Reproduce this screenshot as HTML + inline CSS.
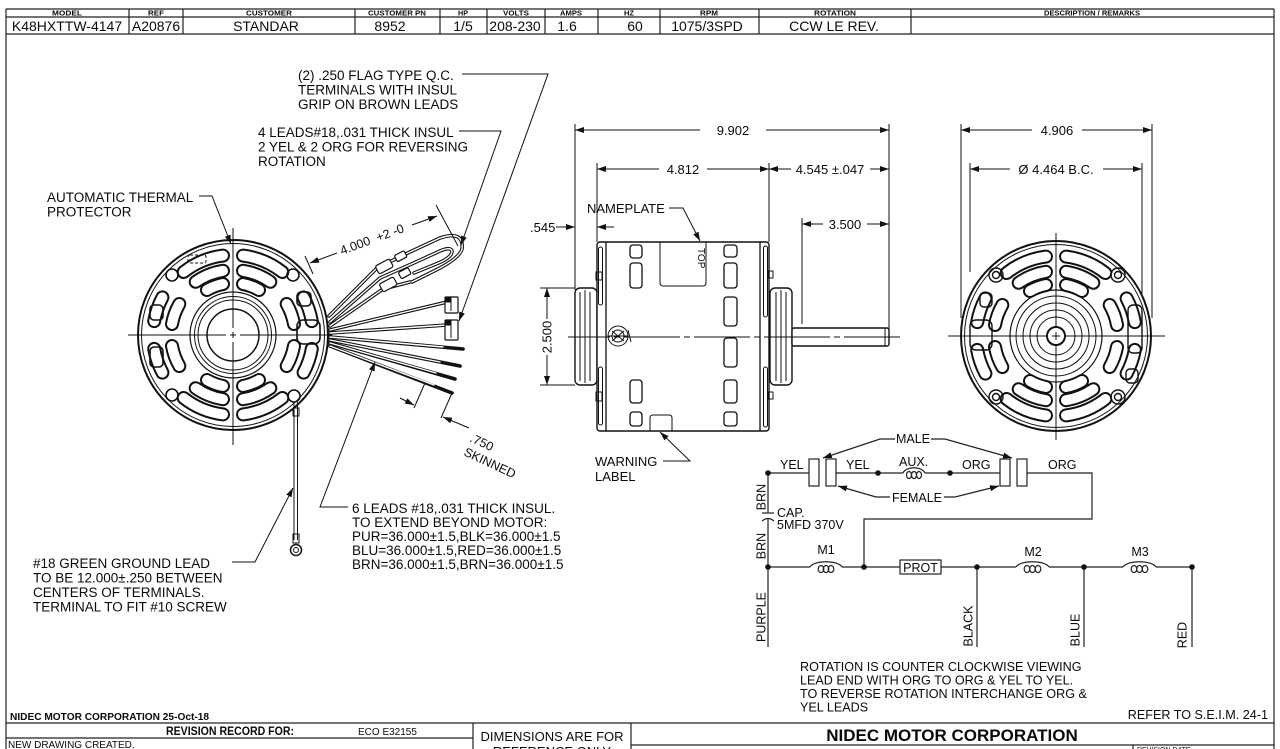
<!DOCTYPE html>
<html><head><meta charset="utf-8">
<style>
html,body{margin:0;padding:0;background:#fff;}
svg{display:block;}
text{font-family:"Liberation Sans",Arial,sans-serif;fill:#0a0a0a;}
</style></head><body>
<svg width="1280" height="749" viewBox="0 0 1280 749" xmlns="http://www.w3.org/2000/svg">
<defs>
<marker id="a" markerUnits="userSpaceOnUse" markerWidth="10" markerHeight="7" refX="9" refY="3" orient="auto-start-reverse" viewBox="0 0 10 6"><path d="M0,0 L9,3 L0,6 z" fill="#111"/></marker>
<path id="vp" d="M-49.3,-63 A80,80 0 0 1 -10,-79.4 M10,-79.4 A80,80 0 0 1 49.3,-63
M-37.3,-53.2 A65,65 0 0 1 -10,-64.2 M10,-64.2 A65,65 0 0 1 37.3,-53.2
M-26,-45 A52,52 0 0 1 -10,-51 M10,-51 A52,52 0 0 1 26,-45
M-49.3,63 A80,80 0 0 0 -10,79.4 M10,79.4 A80,80 0 0 0 49.3,63
M-37.3,53.2 A65,65 0 0 0 -10,64.2 M10,64.2 A65,65 0 0 0 37.3,53.2
M-26,45 A52,52 0 0 0 -10,51 M10,51 A52,52 0 0 0 26,45
M70.6,-37.6 A80,80 0 0 1 78.8,-13.9 M78.8,13.9 A80,80 0 0 1 70.6,37.6
M53.7,-31 A62,62 0 0 1 61,-11 M61,11 A62,62 0 0 1 53.7,31
M-70.6,-37.6 A80,80 0 0 0 -78.8,-13.9 M-78.8,13.9 A80,80 0 0 0 -70.6,37.6
M-53.7,-31 A62,62 0 0 0 -61,-11 M-61,11 A62,62 0 0 0 -53.7,31"/>
</defs>

<!-- FRAME + HEADER TABLE -->
<g stroke="#222" fill="none" stroke-width="1.2">
<line x1="6" y1="9" x2="6" y2="749"/>
<line x1="1274" y1="9" x2="1274" y2="749"/>
<line x1="6" y1="9" x2="1274" y2="9"/>
<line x1="6" y1="17" x2="1274" y2="17"/>
<line x1="6" y1="34" x2="1274" y2="34"/>
<line x1="129" y1="9" x2="129" y2="34"/>
<line x1="183" y1="9" x2="183" y2="34"/>
<line x1="355" y1="9" x2="355" y2="34"/>
<line x1="440" y1="9" x2="440" y2="34"/>
<line x1="487" y1="9" x2="487" y2="34"/>
<line x1="545" y1="9" x2="545" y2="34"/>
<line x1="598" y1="9" x2="598" y2="34"/>
<line x1="660" y1="9" x2="660" y2="34"/>
<line x1="759" y1="9" x2="759" y2="34"/>
<line x1="911" y1="9" x2="911" y2="34"/>
</g>
<g font-size="7.5" text-anchor="middle" font-weight="bold" fill="#222">
<text x="67" y="15.5" textLength="30" lengthAdjust="spacingAndGlyphs">MODEL</text>
<text x="156" y="15.5" textLength="16" lengthAdjust="spacingAndGlyphs">REF</text>
<text x="269" y="15.5" textLength="46" lengthAdjust="spacingAndGlyphs">CUSTOMER</text>
<text x="397" y="15.5" textLength="58" lengthAdjust="spacingAndGlyphs">CUSTOMER PN</text>
<text x="463" y="15.5" textLength="10" lengthAdjust="spacingAndGlyphs">HP</text>
<text x="516" y="15.5" textLength="26" lengthAdjust="spacingAndGlyphs">VOLTS</text>
<text x="571" y="15.5" textLength="22" lengthAdjust="spacingAndGlyphs">AMPS</text>
<text x="629" y="15.5" textLength="10" lengthAdjust="spacingAndGlyphs">HZ</text>
<text x="709" y="15.5" textLength="18" lengthAdjust="spacingAndGlyphs">RPM</text>
<text x="835" y="15.5" textLength="42" lengthAdjust="spacingAndGlyphs">ROTATION</text>
<text x="1092" y="15.5" textLength="96" lengthAdjust="spacingAndGlyphs">DESCRIPTION / REMARKS</text>
</g>
<g font-size="14" text-anchor="middle">
<text x="67" y="31">K48HXTTW-4147</text>
<text x="156" y="31">A20876</text>
<text x="266" y="31">STANDAR</text>
<text x="390" y="31">8952</text>
<text x="463" y="31">1/5</text>
<text x="515" y="31">208-230</text>
<text x="567" y="31">1.6</text>
<text x="635" y="31">60</text>
<text x="707" y="31">1075/3SPD</text>
<text x="834" y="31">CCW LE REV.</text>
</g>

<!-- LEFT MOTOR (end view) -->
<g transform="translate(233,335)">
<circle r="95" fill="none" stroke="#111" stroke-width="2"/>
<circle r="91.5" fill="none" stroke="#111" stroke-width="1"/>
<use href="#vp" fill="none" stroke="#111" stroke-width="14" stroke-linecap="round"/>
<use href="#vp" fill="none" stroke="#fff" stroke-width="10" stroke-linecap="round"/>
<circle r="26" fill="none" stroke="#111" stroke-width="1.5"/>
<circle r="35" fill="none" stroke="#111" stroke-width="1"/>
<circle r="38.5" fill="none" stroke="#111" stroke-width="1"/>
<circle r="43" fill="none" stroke="#111" stroke-width="1.2"/>
<g fill="none" stroke="#111" stroke-width="1.6">
<circle cx="-61" cy="-60" r="6"/><circle cx="60" cy="-60" r="6"/>
<circle cx="-61" cy="60" r="6"/><circle cx="61" cy="61" r="6"/>
<rect x="64" y="-15" width="23" height="24" rx="6"/>
<rect x="64" y="-43" width="14" height="14" rx="4"/>
<rect x="-83" y="-30" width="13" height="15" rx="4"/>
<rect x="-83" y="12" width="13" height="20" rx="4"/>
<rect x="-45" y="-80" width="18" height="8" rx="2" stroke-dasharray="3 2" stroke-width="1"/>
</g>
</g>
<g stroke="#111" stroke-width="1" fill="none">
<line x1="128" y1="335" x2="226" y2="335"/><line x1="230" y1="335" x2="236" y2="335"/><line x1="240" y1="335" x2="332" y2="335"/>
<line x1="233" y1="228" x2="233" y2="328"/><line x1="233" y1="332" x2="233" y2="338"/><line x1="233" y1="342" x2="233" y2="445"/>
</g>

<!-- leads -->
<g fill="none" stroke-linecap="round" stroke-linejoin="round">
<g stroke="#111" stroke-width="3.6">
<path d="M329,316 L377,268 L412,251 L440,238 Q464,230 462,249 Q460,257 440,268 L412,282"/>
<path d="M330,322 L380,278 L416,262 L440,251 Q452,246 452,252 Q451,258 436,264 L414,273"/>
<path d="M330,326 L383,289 L410,282"/>
<path d="M330,330 L447,302"/>
<path d="M330,333 L447,325"/>
<path d="M330,337 L463,349"/>
<path d="M330,340 L460,366"/>
<path d="M330,343 L455,379"/>
<path d="M330,346 L452,393"/>
</g>
<g stroke="#fff" stroke-width="1.4">
<path d="M329,316 L377,268 L412,251 L440,238 Q464,230 462,249 Q460,257 440,268 L412,282"/>
<path d="M330,322 L380,278 L416,262 L440,251 Q452,246 452,252 Q451,258 436,264 L414,273"/>
<path d="M330,326 L383,289 L410,282"/>
<path d="M330,330 L447,302"/>
<path d="M330,333 L447,325"/>
<path d="M330,337 L443,347"/>
<path d="M330,340 L440,362"/>
<path d="M330,343 L436,373"/>
<path d="M330,346 L434,385"/>
</g>
</g>
<g fill="#fff" stroke="#111" stroke-width="1.2">
<rect x="376" y="262" width="16" height="9" rx="2" transform="rotate(-28 384 266)"/>
<rect x="395" y="253" width="11" height="7" rx="1.5" transform="rotate(-28 400 256)"/>
<rect x="380" y="280" width="16" height="9" rx="2" transform="rotate(-28 388 284)"/>
<rect x="399" y="270" width="11" height="7" rx="1.5" transform="rotate(-28 404 273)"/>
<rect x="445" y="297" width="13" height="16" rx="1"/>
<rect x="445" y="320" width="13" height="20" rx="1"/>
</g>
<g stroke="#111" stroke-width="1">
<line x1="451" y1="299" x2="451" y2="311"/><line x1="451" y1="323" x2="451" y2="338"/>
<rect x="446" y="298" width="5" height="4" fill="#111"/><rect x="446" y="321" width="5" height="4" fill="#111"/>
</g>
<!-- ground lead -->
<g fill="none" stroke="#111">
<line x1="294" y1="402" x2="294" y2="540" stroke-width="1"/>
<line x1="297.5" y1="402" x2="297.5" y2="540" stroke-width="1"/>
<rect x="293" y="408" width="6" height="8" stroke-width="1"/>
<rect x="293" y="534" width="6" height="9" stroke-width="1"/>
<circle cx="296" cy="550" r="5.5" stroke-width="1.5"/>
<circle cx="296" cy="550" r="2.5" stroke-width="1"/>
</g>

<!-- left labels -->
<g font-size="13.5">
<text x="298" y="80">(2) .250 FLAG TYPE Q.C.</text>
<text x="298" y="94.5">TERMINALS WITH INSUL</text>
<text x="298" y="109">GRIP ON BROWN LEADS</text>
<text x="258" y="137">4 LEADS#18,.031 THICK INSUL</text>
<text x="258" y="151.5">2 YEL &amp; 2 ORG FOR REVERSING</text>
<text x="258" y="166">ROTATION</text>
<text x="47" y="202">AUTOMATIC THERMAL</text>
<text x="47" y="216.5">PROTECTOR</text>
<text x="352" y="513">6 LEADS #18,.031 THICK INSUL.</text>
<text x="352" y="527">TO EXTEND BEYOND MOTOR:</text>
<text x="352" y="541">PUR=36.000±1.5,BLK=36.000±1.5</text>
<text x="352" y="555">BLU=36.000±1.5,RED=36.000±1.5</text>
<text x="352" y="569">BRN=36.000±1.5,BRN=36.000±1.5</text>
<text x="33" y="568">#18 GREEN GROUND LEAD</text>
<text x="33" y="582.5">TO BE 12.000±.250 BETWEEN</text>
<text x="33" y="597">CENTERS OF TERMINALS.</text>
<text x="33" y="611.5">TERMINAL TO FIT #10 SCREW</text>
</g>
<g fill="none" stroke="#111" stroke-width="1">
<polyline points="462,74 548,74 459,321" marker-end="url(#a)"/>
<polyline points="459,131 501,131 461,245" marker-end="url(#a)"/>
<polyline points="199,196 212,196 231,244" marker-end="url(#a)"/>
<polyline points="348,507 320,507 375,362" marker-end="url(#a)"/>
<polyline points="232,562 255,562 293,488" marker-end="url(#a)"/>
<line x1="337" y1="253" x2="310" y2="263" marker-end="url(#a)"/>
<line x1="412" y1="225" x2="437" y2="216" marker-end="url(#a)"/>
<line x1="305" y1="256" x2="313" y2="274"/>
<line x1="436" y1="205" x2="458" y2="246"/>
<line x1="425" y1="383" x2="414" y2="408"/>
<line x1="400" y1="398" x2="414" y2="405" marker-end="url(#a)"/>
<line x1="452" y1="393" x2="441" y2="418"/>
<line x1="469" y1="428" x2="443" y2="417" marker-end="url(#a)"/>
</g>
<text x="342" y="255" font-size="12.5" transform="rotate(-20.3 342 255)" xml:space="preserve">4.000  +2 -0</text>
<text x="469" y="441" font-size="12.5" transform="rotate(25 469 441)">.750</text>
<text x="463" y="455" font-size="12.5" transform="rotate(25 463 455)">SKINNED</text>

<!-- MIDDLE MOTOR (side view) -->
<g fill="none" stroke="#111" stroke-width="1">
<line x1="575" y1="124" x2="575" y2="290"/>
<line x1="889" y1="124" x2="889" y2="330"/>
<line x1="597" y1="163" x2="597" y2="242"/>
<line x1="769" y1="163" x2="769" y2="242"/>
<line x1="802" y1="218" x2="802" y2="324"/>
<line x1="540" y1="288" x2="575" y2="288"/>
<line x1="540" y1="385" x2="575" y2="385"/>
<line x1="700" y1="130" x2="575" y2="130" marker-end="url(#a)"/>
<line x1="766" y1="130" x2="889" y2="130" marker-end="url(#a)"/>
<line x1="659" y1="169" x2="597" y2="169" marker-end="url(#a)"/>
<line x1="707" y1="169" x2="769" y2="169" marker-end="url(#a)"/>
<line x1="791" y1="169" x2="769" y2="169" marker-end="url(#a)"/>
<line x1="870" y1="169" x2="889" y2="169" marker-end="url(#a)"/>
<line x1="823" y1="224" x2="802" y2="224" marker-end="url(#a)"/>
<line x1="867" y1="224" x2="889" y2="224" marker-end="url(#a)"/>
<line x1="556" y1="227" x2="575" y2="227" marker-end="url(#a)"/>
<line x1="614" y1="227" x2="597" y2="227" marker-end="url(#a)"/>
<line x1="547" y1="319" x2="547" y2="288" marker-end="url(#a)"/>
<line x1="547" y1="355" x2="547" y2="385" marker-end="url(#a)"/>
<polyline points="669,208 683,208 700,241" marker-end="url(#a)"/>
<polyline points="663,461 690,461 660,432" marker-end="url(#a)"/>
</g>
<g fill="#fff" stroke="#111" stroke-width="1.4">
<rect x="575" y="288" width="22" height="97" rx="5"/>
<rect x="770" y="288" width="22" height="97" rx="5"/>
<rect x="792" y="328" width="97" height="18" rx="2"/>
<rect x="597" y="242" width="172" height="189" rx="3"/>
</g>
<g fill="none" stroke="#111" stroke-width="1">
<line x1="580" y1="292" x2="580" y2="381"/><line x1="585" y1="290" x2="585" y2="383"/><line x1="590" y1="292" x2="590" y2="381"/>
<line x1="776" y1="292" x2="776" y2="381"/><line x1="781" y1="290" x2="781" y2="383"/><line x1="786" y1="292" x2="786" y2="381"/>
<line x1="885" y1="328" x2="885" y2="346"/>
<line x1="606" y1="242" x2="606" y2="431" stroke-width="1.3"/>
<line x1="760" y1="242" x2="760" y2="431" stroke-width="1.3"/>
<rect x="598.5" y="247" width="4" height="58" rx="2"/>
<rect x="598.5" y="367" width="4" height="58" rx="2"/>
<rect x="763.5" y="246" width="4" height="71" rx="2"/>
<rect x="763.5" y="367" width="4" height="60" rx="2"/>
<rect x="596" y="272" width="6" height="8"/>
<rect x="596" y="392" width="6" height="9"/>
<rect x="768" y="271" width="5" height="7"/>
<rect x="768" y="392" width="5" height="7"/>
<g stroke-width="1.3">
<rect x="630" y="245" width="12" height="13" rx="3"/>
<rect x="630" y="263" width="12" height="25" rx="3"/>
<rect x="630" y="380" width="12" height="23" rx="3"/>
<rect x="630" y="412" width="12" height="14" rx="3"/>
<rect x="724" y="245" width="13" height="12" rx="3"/>
<rect x="724" y="263" width="13" height="25" rx="3"/>
<rect x="724" y="297" width="13" height="29" rx="3"/>
<rect x="724" y="338" width="13" height="29" rx="3"/>
<rect x="724" y="380" width="13" height="23" rx="3"/>
<rect x="724" y="412" width="13" height="14" rx="3"/>
</g>
<path d="M660,242 L660,283 Q660,286 663,286 L703,286 Q706,286 706,283 L706,242"/>
<path d="M650,431 L650,418 Q650,415 653,415 L669,415 Q672,415 672,418 L672,431"/>
<circle cx="618" cy="336" r="10" fill="#fff"/>
<circle cx="618" cy="336" r="6"/>
<path d="M612,331 L624,341 M612,341 L624,331 M608,336 L628,336 M628,330 L631,342"/>
<path d="M568,337 L610,337 M614,337 L620,337 M624,337 L680,337 M684,337 L690,337 M694,337 L750,337 M754,337 L760,337 M764,337 L830,337 M834,337 L840,337 M844,337 L900,337"/>
</g>
<text x="698" y="248" font-size="10" transform="rotate(90 698 248)">TOP</text>
<g font-size="13">
<text x="733" y="135" text-anchor="middle">9.902</text>
<text x="683" y="174" text-anchor="middle">4.812</text>
<text x="830" y="174" text-anchor="middle">4.545 ±.047</text>
<text x="845" y="229" text-anchor="middle">3.500</text>
<text x="530" y="232">.545</text>
<text x="587" y="213">NAMEPLATE</text>
<text x="595" y="466">WARNING</text>
<text x="595" y="481">LABEL</text>
<text x="547" y="337" text-anchor="middle" transform="rotate(-90 547 337)" dy="4.5">2.500</text>
</g>

<!-- RIGHT MOTOR (end view) -->
<g fill="none" stroke="#111" stroke-width="1">
<line x1="961" y1="124" x2="961" y2="318"/>
<line x1="1152" y1="124" x2="1152" y2="318"/>
<line x1="970" y1="163" x2="970" y2="272"/>
<line x1="1142" y1="163" x2="1142" y2="300"/>
<line x1="1032" y1="130" x2="961" y2="130" marker-end="url(#a)"/>
<line x1="1082" y1="130" x2="1152" y2="130" marker-end="url(#a)"/>
<line x1="1010" y1="169" x2="970" y2="169" marker-end="url(#a)"/>
<line x1="1103" y1="169" x2="1142" y2="169" marker-end="url(#a)"/>
</g>
<g font-size="13" text-anchor="middle">
<text x="1057" y="135">4.906</text>
<text x="1056" y="174">Ø 4.464 B.C.</text>
</g>
<g transform="translate(1056,336)">
<circle r="95" fill="#fff" stroke="#111" stroke-width="2"/>
<circle r="91.5" fill="none" stroke="#111" stroke-width="1"/>
<use href="#vp" fill="none" stroke="#111" stroke-width="14" stroke-linecap="round"/>
<use href="#vp" fill="none" stroke="#fff" stroke-width="10" stroke-linecap="round"/>
<g fill="none" stroke="#111">
<circle r="9" stroke-width="2"/>
<circle r="19" stroke-width="1"/>
<circle r="26" stroke-width="1"/>
<circle r="33" stroke-width="1"/>
<circle r="40" stroke-width="1"/>
<circle r="46" stroke-width="1.2"/>
<g stroke-width="1.4">
<circle cx="-60" cy="-61" r="7"/><circle cx="-60" cy="-61" r="3.5"/>
<circle cx="62" cy="-61" r="7"/><circle cx="62" cy="-61" r="3.5"/>
<circle cx="-60" cy="61" r="7"/><circle cx="-60" cy="61" r="3.5"/>
<circle cx="62" cy="61" r="7"/><circle cx="62" cy="61" r="3.5"/>
<rect x="-86" y="-16" width="22" height="30" rx="6"/>
<rect x="-76" y="-43" width="12" height="14" rx="4"/>
<rect x="72" y="-31" width="14" height="48" rx="5"/>
<rect x="70" y="33" width="12" height="14" rx="4"/>
</g>
</g>
</g>
<g stroke="#111" stroke-width="1" fill="none">
<path d="M948,336 L1048,336 M1052,336 L1060,336 M1064,336 L1165,336"/>
<path d="M1056,233 L1056,328 M1056,332 L1056,340 M1056,344 L1056,440"/>
</g>

<!-- SCHEMATIC -->
<g fill="none" stroke="#222" stroke-width="1.2">
<line x1="768" y1="473" x2="768" y2="513"/>
<line x1="762" y1="513" x2="774" y2="513"/>
<path d="M762,521 Q768,516 774,521"/>
<line x1="768" y1="518" x2="768" y2="647"/>
<line x1="768" y1="473" x2="809" y2="473"/>
<line x1="836" y1="473" x2="903" y2="473"/>
<line x1="925" y1="473" x2="1000" y2="473"/>
<polyline points="1027,473 1092,473 1092,519 864,519 864,567"/>
<line x1="768" y1="567" x2="810" y2="567"/>
<line x1="842" y1="567" x2="900" y2="567"/>
<line x1="941" y1="567" x2="1016" y2="567"/>
<line x1="1049" y1="567" x2="1123" y2="567"/>
<line x1="1156" y1="567" x2="1192" y2="567"/>
<line x1="977" y1="567" x2="977" y2="647"/>
<line x1="1084" y1="567" x2="1084" y2="647"/>
<line x1="1192" y1="567" x2="1192" y2="647"/>
<rect x="809" y="459" width="10" height="27"/>
<rect x="826" y="459" width="10" height="27"/>
<rect x="1000" y="459" width="10" height="27"/>
<rect x="1017" y="459" width="10" height="27"/>
<rect x="900" y="560" width="41" height="14"/>
<path d="M903,473 C906,466 922,466 925,473"/>
<ellipse cx="909" cy="475" rx="2.5" ry="3.5"/><ellipse cx="914" cy="475" rx="2.5" ry="3.5"/><ellipse cx="919" cy="475" rx="2.5" ry="3.5"/>
<path d="M810,567 C814,560 838,560 842,567"/>
<ellipse cx="821" cy="569" rx="2.8" ry="3.5"/><ellipse cx="826" cy="569" rx="2.8" ry="3.5"/><ellipse cx="831" cy="569" rx="2.8" ry="3.5"/>
<path d="M1016,567 C1020,560 1045,560 1049,567"/>
<ellipse cx="1027" cy="569" rx="2.8" ry="3.5"/><ellipse cx="1032.5" cy="569" rx="2.8" ry="3.5"/><ellipse cx="1038" cy="569" rx="2.8" ry="3.5"/>
<path d="M1123,567 C1127,560 1152,560 1156,567"/>
<ellipse cx="1134" cy="569" rx="2.8" ry="3.5"/><ellipse cx="1139.5" cy="569" rx="2.8" ry="3.5"/><ellipse cx="1145" cy="569" rx="2.8" ry="3.5"/>
<polyline points="895,439 880,439 823,458" marker-end="url(#a)"/>
<polyline points="931,439 945,439 1012,458" marker-end="url(#a)"/>
<polyline points="890,497 876,497 838,486" marker-end="url(#a)"/>
<polyline points="944,497 955,497 999,486" marker-end="url(#a)"/>
</g>
<g fill="#111">
<circle cx="768" cy="473" r="2.8"/><circle cx="878" cy="473" r="2.8"/><circle cx="950" cy="473" r="2.8"/>
<circle cx="768" cy="567" r="2.8"/><circle cx="864" cy="567" r="2.8"/><circle cx="977" cy="567" r="2.8"/>
<circle cx="1084" cy="567" r="2.8"/><circle cx="1192" cy="567" r="2.8"/>
</g>
<g font-size="12.5">
<text x="780" y="469">YEL</text>
<text x="846" y="469">YEL</text>
<text x="899" y="466">AUX.</text>
<text x="962" y="469">ORG</text>
<text x="1048" y="469">ORG</text>
<text x="913" y="443" text-anchor="middle">MALE</text>
<text x="917" y="502" text-anchor="middle">FEMALE</text>
<text x="777" y="517">CAP.</text>
<text x="777" y="529">5MFD 370V</text>
<text x="826" y="554" text-anchor="middle">M1</text>
<text x="1033" y="556" text-anchor="middle">M2</text>
<text x="1140" y="556" text-anchor="middle">M3</text>
<text x="920.5" y="572" text-anchor="middle">PROT</text>
<text x="761" y="497" dy="4.5" text-anchor="middle" transform="rotate(-90 761 497)">BRN</text>
<text x="761" y="546" dy="4.5" text-anchor="middle" transform="rotate(-90 761 546)">BRN</text>
<text x="761" y="617" dy="4.5" text-anchor="middle" transform="rotate(-90 761 617)">PURPLE</text>
<text x="968" y="626" dy="4.5" text-anchor="middle" transform="rotate(-90 968 626)">BLACK</text>
<text x="1075" y="630" dy="4.5" text-anchor="middle" transform="rotate(-90 1075 630)">BLUE</text>
<text x="1182" y="635" dy="4.5" text-anchor="middle" transform="rotate(-90 1182 635)">RED</text>
</g>
<g font-size="12.6">
<text x="800" y="671">ROTATION IS COUNTER CLOCKWISE VIEWING</text>
<text x="800" y="684.5">LEAD END WITH ORG TO ORG &amp; YEL TO YEL.</text>
<text x="800" y="698">TO REVERSE ROTATION INTERCHANGE ORG &amp;</text>
<text x="800" y="711.5">YEL LEADS</text>
<text x="1268" y="719" text-anchor="end">REFER TO S.E.I.M. 24-1</text>
</g>

<!-- TITLE BLOCK -->
<text x="10" y="720" font-size="10" font-weight="bold" textLength="199" lengthAdjust="spacingAndGlyphs">NIDEC MOTOR CORPORATION 25-Oct-18</text>
<g stroke="#222" stroke-width="1.2" fill="none">
<line x1="6" y1="723" x2="1274" y2="723"/>
<line x1="6" y1="738" x2="473" y2="738"/>
<line x1="473" y1="723" x2="473" y2="749"/>
<line x1="631" y1="723" x2="631" y2="749"/>
<line x1="631" y1="745" x2="1274" y2="745"/>
<line x1="1133" y1="745" x2="1133" y2="749"/>
</g>
<text x="166" y="735" font-size="12" font-weight="bold" textLength="128" lengthAdjust="spacingAndGlyphs">REVISION RECORD FOR:</text>
<text x="358" y="735" font-size="10">ECO E32155</text>
<text x="8" y="748" font-size="10">NEW DRAWING CREATED.</text>
<text x="552" y="741" font-size="13" text-anchor="middle">DIMENSIONS ARE FOR</text>
<text x="552" y="756" font-size="13" text-anchor="middle">REFERENCE ONLY</text>
<text x="952" y="741" font-size="17" font-weight="bold" text-anchor="middle">NIDEC MOTOR CORPORATION</text>
<text x="1137" y="752" font-size="7">REVISION DATE</text>
</svg>
</body></html>
